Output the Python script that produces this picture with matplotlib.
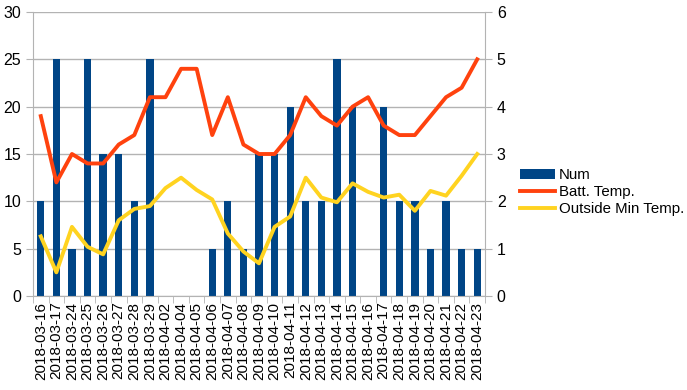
import matplotlib
matplotlib.use("Agg")
import matplotlib.pyplot as plt
import numpy as np

plt.rcParams['font.family'] = ['Liberation Sans', 'DejaVu Sans']

dates = ["2018-03-16", "2018-03-17", "2018-03-24", "2018-03-25", "2018-03-26",
         "2018-03-27", "2018-03-28", "2018-03-29", "2018-04-02", "2018-04-04",
         "2018-04-05", "2018-04-06", "2018-04-07", "2018-04-08", "2018-04-09",
         "2018-04-10", "2018-04-11", "2018-04-12", "2018-04-13", "2018-04-14",
         "2018-04-15", "2018-04-16", "2018-04-17", "2018-04-18", "2018-04-19",
         "2018-04-20", "2018-04-21", "2018-04-22", "2018-04-23"]
num = [10, 25, 5, 25, 15, 15, 10, 25, 0, 0, 0, 5, 10, 5, 15, 15, 20, 10, 10, 25,
       20, 0, 20, 10, 10, 5, 10, 5, 5]
batt_temp = [19, 12, 15, 14, 14, 16, 17, 21, 21, 24, 24, 17, 21, 16, 15, 15, 17,
             21, 19, 18, 20, 21, 18, 17, 17, 19, 21, 22, 25]
outside_min = [6.3, 2.5, 7.3, 5.2, 4.4, 8.0, 9.2, 9.5, 11.4, 12.5, 11.2, 10.2, 6.6,
               4.7, 3.45, 7.3, 8.4, 12.5, 10.4, 9.9, 11.9, 11.0, 10.4, 10.7, 9.0,
               11.1, 10.6, 12.7, 15.0]
left_ticks = [0, 5, 10, 15, 20, 25, 30]
right_ticks = [0, 1, 2, 3, 4, 5, 6]

fig = plt.figure(figsize=(6.87, 3.90), dpi=100)
ax = fig.add_axes([33/687, 1 - 296/390, (485-33)/687, (296-12)/390])
x = np.arange(len(dates))

grid_c = "#b3b3b3"
ax.bar(x, num, width=0.47, color="#004586", label="Num", zorder=2)
ax.plot(x, batt_temp, color="#ff420e", lw=2.8, label="Batt. Temp.", zorder=3)
ax.plot(x, outside_min, color="#ffd320", lw=2.8, label="Outside Min Temp.", zorder=3)

ax.set_xlim(-0.5, len(dates) - 0.5)
ax.set_ylim(0, 30)
ax.set_yticks(left_ticks)
ax.yaxis.grid(True, color=grid_c, lw=1, zorder=0)
ax.set_axisbelow(True)
ax.set_xticks(x)
ax.set_xticklabels(dates, rotation=90, fontsize=11)
ax.set_xticks(np.arange(-0.5, len(dates)), minor=True)
ax.tick_params(axis='x', which='major', length=0, pad=4)
ax.tick_params(axis='x', which='minor', length=5, color=grid_c)
ax.tick_params(axis='y', length=5, color=grid_c, labelsize=11.5)
for s in ["top", "right"]:
    ax.spines[s].set_visible(False)
for s in ["left", "bottom"]:
    ax.spines[s].set_color(grid_c)

ax2 = ax.twinx()
ax2.set_ylim(0, 6)
ax2.set_yticks(right_ticks)
ax2.tick_params(axis='y', length=5, color=grid_c, labelsize=11.5)
for s in ["top", "left", "bottom"]:
    ax2.spines[s].set_visible(False)
ax2.spines["right"].set_color(grid_c)

h, l = ax.get_legend_handles_labels()
hl = dict(zip(l, h))
names = ["Num", "Batt. Temp."[:], "Outside Min Temp."]
fig.legend([hl[n] for n in names], names, loc="center left",
           bbox_to_anchor=(514/687, 1 - 192/390), frameon=False, fontsize=10.8,
           handlelength=2.3, handletextpad=0.3, labelspacing=0.2,
           borderaxespad=0)

fig.savefig("out.png", dpi=100)
